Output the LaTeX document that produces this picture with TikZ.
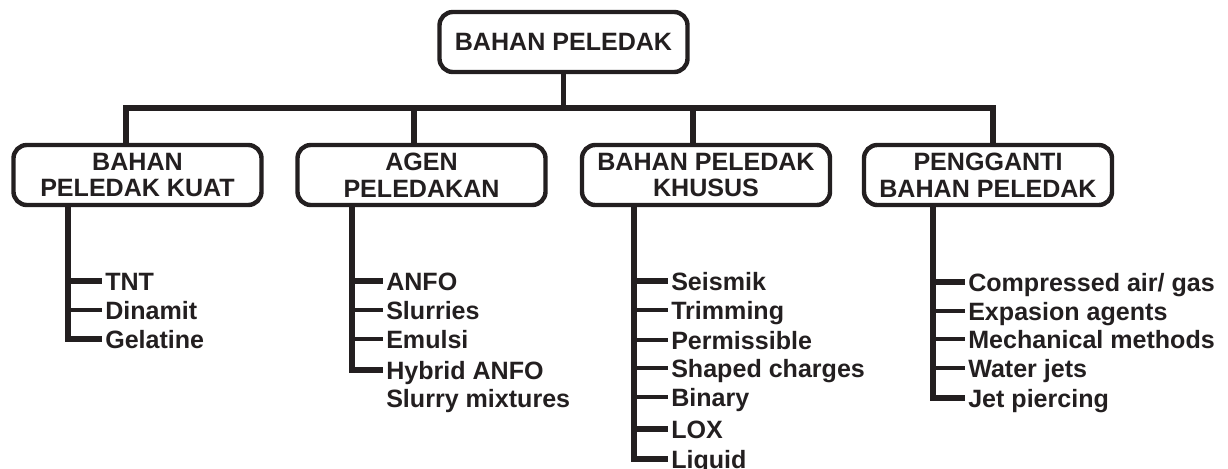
\documentclass[tikz,border=0pt]{standalone}
\usepackage{fontspec}
\setmainfont{Liberation Sans}
\usepackage{tikz}
\usetikzlibrary{positioning}
\definecolor{inkgray}{HTML}{231F20}
\tikzset{
  groupbox/.style={draw=inkgray,line width=3.3pt,rounded corners=10pt,align=center,
    minimum width=186pt,minimum height=45pt,inner sep=0pt,text=inkgray,
    font=\bfseries\fontsize{18.8pt}{20pt}\selectfont},
  leafitem/.style={anchor=west,inner xsep=2.25pt,inner ysep=0pt,text height=13.5pt,
    text depth=0pt,text=inkgray,font=\bfseries\fontsize{18.8pt}{20.3pt}\selectfont},
  linkline/.style={draw=inkgray,line width=3.8pt},
  branchline/.style={draw=inkgray,line width=3.1pt},
  heavybranch/.style={draw=inkgray,line width=5pt}
}
\begin{document}
\begin{tikzpicture}[x=0.75pt,y=-0.75pt]
  \useasboundingbox (0,0) rectangle (1228,468);
  % puncak dan kelompok
  \node[groupbox] (root) at (563.5,42) {BAHAN PELEDAK};
  \node[groupbox] (b1) at (137.5,175) {BAHAN\\PELEDAK KUAT};
  \node[groupbox] (b2) at (421.5,175) {AGEN\\PELEDAKAN};
  \node[groupbox] (b3) at (706,175) {BAHAN PELEDAK\\KHUSUS};
  \node[groupbox] (b4) at (988,175) {PENGGANTI\\BAHAN PELEDAK};
  % garis penghubung
  \coordinate (j1) at (126,108);
  \coordinate (j2) at (414,108);
  \coordinate (j3) at (693,108);
  \coordinate (j4) at (993,108);
  \draw[linkline] (j1 |- b1.north) -- (j1) -- (j4) -- (j4 |- b4.north);
  \draw[linkline] (root.south) -- (root.south |- j1);
  \draw[linkline] (j2) -- (j2 |- b2.north);
  \draw[linkline] (j3) -- (j3 |- b3.north);
  \coordinate (t1) at (68,300);
  \coordinate (t2) at (352,300);
  \coordinate (t3) at (634,300);
  \coordinate (t4) at (933,300);
  % bahan peledak kuat
  \node[leafitem] (l1a) at (102,281) {TNT};
  \node[leafitem] (l1b) at (102,310) {Dinamit};
  \node[leafitem] (l1c) at (102,339) {Gelatine};
  \draw[linkline] (b1.south -| t1) -- (l1c.west -| t1) -- (l1c.west);
  \draw[heavybranch] (l1a.west -| t1) -- (l1a.west);
  \draw[branchline] (l1b.west -| t1) -- (l1b.west);
  % agen peledakan
  \node[leafitem] (l2a) at (383,281) {ANFO};
  \node[leafitem] (l2b) at (383,310) {Slurries};
  \node[leafitem] (l2c) at (383,339) {Emulsi};
  \node[leafitem] (l2d) at (383,370) {Hybrid ANFO};
  \node[leafitem] (l2e) at (383,398) {Slurry mixtures};
  \draw[linkline] (b2.south -| t2) -- (l2d.west -| t2) -- (l2d.west);
  \draw[heavybranch] (l2a.west -| t2) -- (l2a.west);
  \draw[branchline] (l2b.west -| t2) -- (l2b.west);
  \draw[branchline] (l2c.west -| t2) -- (l2c.west);
  % bahan peledak khusus
  \node[leafitem] (l3a) at (668,281) {Seismik};
  \node[leafitem] (l3b) at (668,310) {Trimming};
  \node[leafitem] (l3c) at (668,340) {Permissible};
  \node[leafitem] (l3d) at (668,368) {Shaped charges};
  \node[leafitem] (l3e) at (668,397) {Binary};
  \node[leafitem] (l3f) at (668,429) {LOX};
  \node[leafitem] (l3g) at (668,459) {Liquid};
  \draw[linkline] (b3.south -| t3) -- (l3g.west -| t3) -- (l3g.west);
  \draw[heavybranch] (l3a.west -| t3) -- (l3a.west);
  \draw[branchline] (l3b.west -| t3) -- (l3b.west);
  \draw[branchline] (l3c.west -| t3) -- (l3c.west);
  \draw[branchline] (l3d.west -| t3) -- (l3d.west);
  \draw[branchline] (l3e.west -| t3) -- (l3e.west);
  \draw[heavybranch] (l3f.west -| t3) -- (l3f.west);
  % pengganti bahan peledak
  \node[leafitem] (l4a) at (965,282) {Compressed air/ gas};
  \node[leafitem] (l4b) at (965,311) {Expasion agents};
  \node[leafitem] (l4c) at (965,339) {Mechanical methods};
  \node[leafitem] (l4d) at (965,368) {Water jets};
  \node[leafitem] (l4e) at (965,398) {Jet piercing};
  \draw[linkline] (b4.south -| t4) -- (l4e.west -| t4) -- (l4e.west);
  \draw[heavybranch] (l4a.west -| t4) -- (l4a.west);
  \draw[branchline] (l4b.west -| t4) -- (l4b.west);
  \draw[branchline] (l4c.west -| t4) -- (l4c.west);
  \draw[branchline] (l4d.west -| t4) -- (l4d.west);
\end{tikzpicture}
\end{document}
